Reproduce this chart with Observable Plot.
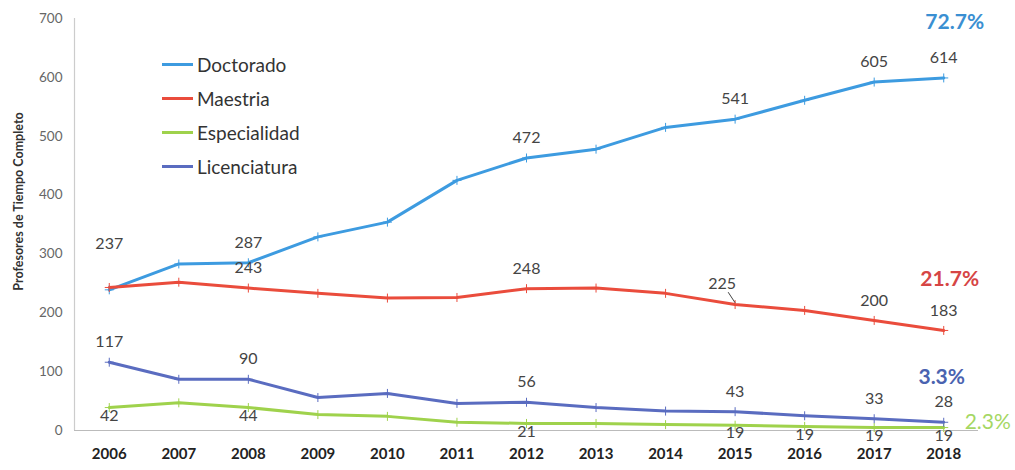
<!DOCTYPE html>
<html>
<head>
<meta charset="utf-8">
<script src="https://cdn.jsdelivr.net/npm/d3@7"></script>
<script src="https://cdn.jsdelivr.net/npm/@observablehq/plot@0.6"></script>
<style>
  body { margin: 0; background: #fff; }
  #wrap { position: relative; width: 1015px; height: 470px; font-family: Lato, "Open Sans", sans-serif; }
  #legend { position: absolute; left: 162px; top: 47px; }
  .row { display: flex; align-items: center; height: 34px; font-size: 19px; color: #333; }
  .sw { width: 31px; height: 3px; margin-right: 4px; }
</style>
</head>
<body>
<div id="wrap"><div id="legend"></div></div>
<script>
const years = [2006, 2007, 2008, 2009, 2010, 2011, 2012, 2013, 2014, 2015, 2016, 2017, 2018];
const seriesNames = ["Doctorado", "Maestria", "Especialidad", "Licenciatura"];
const seriesColors = ["#3d9be0", "#ea4c3c", "#9fd24c", "#5a6cc0"];
const shareColors = ["#3a8fd2", "#d64545", "#a5d763", "#4a63b0"];

const doctorado    = [239, 283, 285, 329, 354, 425, 463, 478, 515, 529, 561, 592, 599];
const maestria     = [243, 252, 242, 233, 225, 226, 241, 242, 233, 214, 204, 187, 170];
const especialidad = [39, 47, 39, 27, 24, 14, 12, 12, 10, 9, 7, 5, 5];
const licenciatura = [116, 87, 87, 56, 63, 46, 48, 39, 33, 32, 25, 20, 14];

const doctoradoLabels    = [237, null, 287, null, null, null, 472, null, null, 541, null, 605, 614];
const maestriaLabels     = [null, null, 243, null, null, null, 248, null, null, 225, null, 200, 183];
const especialidadLabels = [42, null, 44, null, null, null, 21, null, null, 19, 19, 19, 19];
const licenciaturaLabels = [117, null, 90, null, null, null, 56, null, null, 43, null, 33, 28];

const shares = ["72.7%", "21.7%", "2.3%", "3.3%"];

const values = [doctorado, maestria, especialidad, licenciatura];
const labels = [doctoradoLabels, maestriaLabels, especialidadLabels, licenciaturaLabels];

const rows = [];
seriesNames.forEach((s, i) => years.forEach((y, j) => rows.push({series: s, year: y, value: values[i][j], label: labels[i][j]})));
const labelled = rows.filter(d => d.label != null);
const last = seriesNames.map((s, i) => ({series: s, year: years[years.length - 1], value: values[i][years.length - 1], share: shares[i]}));

const isSpecial = d => (d.series === "Doctorado" && d.year === 2006) || (d.series === "Maestria" && d.year === 2015);
const labelFont = {fontSize: 16, fill: "#444", fontFamily: "Lato, sans-serif"};
const shareFont = {fontSize: 21, fontFamily: "Lato, sans-serif"};

const marks = [
  Plot.ruleY([0], {stroke: "#bbb", strokeWidth: 1.2}),
  Plot.ruleX([2005.5], {stroke: "#ccc", strokeWidth: 1.2}),
  Plot.axisX({ticks: years, tickFormat: d => String(d), tickSize: 0, tickPadding: 18, fontSize: 15, fontWeight: "bold", color: "#222", label: null}),
  Plot.axisY({ticks: d3.range(0, 701, 100), tickSize: 0, tickPadding: 12, fontSize: 13.5, color: "#666", label: null}),
  Plot.line(rows, {x: "year", y: "value", z: "series", stroke: "series", strokeWidth: 3}),
  Plot.dot(rows, {x: "year", y: "value", stroke: "series", symbol: "plus", r: 3, strokeWidth: 1}),
  Plot.text(labelled.filter(d => d.series !== "Especialidad" && !isSpecial(d)), {x: "year", y: "value", text: "label", dy: -20, ...labelFont}),
  Plot.text(labelled.filter(d => d.series === "Especialidad"), {x: "year", y: "value", text: "label", dy: 8, ...labelFont}),
  Plot.text(labelled.filter(d => d.series === "Doctorado" && d.year === 2006), {x: "year", y: "value", text: "label", dy: -46, ...labelFont}),
  Plot.text(labelled.filter(d => d.series === "Maestria" && d.year === 2015), {x: "year", y: "value", text: "label", dx: -13, dy: -21, ...labelFont}),
  Plot.link(labelled.filter(d => d.series === "Maestria" && d.year === 2015), {x1: d => d.year - 0.1, y1: d => d.value + 21, x2: d => d.year, y2: d => d.value + 3, stroke: "#444", strokeWidth: 1}),
  Plot.text(last.filter(d => d.series === "Doctorado"), {x: "year", y: "value", text: "share", dx: 11, dy: -56, fontWeight: "bold", fill: shareColors[0], ...shareFont}),
  Plot.text(last.filter(d => d.series === "Maestria"), {x: "year", y: "value", text: "share", dx: 6, dy: -51, fontWeight: "bold", fill: shareColors[1], ...shareFont}),
  Plot.text(last.filter(d => d.series === "Especialidad"), {x: "year", y: "value", text: "share", dx: 44, dy: -5, fill: shareColors[2], ...shareFont}),
  Plot.text(last.filter(d => d.series === "Licenciatura"), {x: "year", y: "value", text: "share", dx: -2, dy: -45, fontWeight: "bold", fill: shareColors[3], ...shareFont}),
  Plot.text(["Profesores de Tiempo Completo"], {frameAnchor: "left", textAnchor: "middle", dx: -56, dy: -23, rotate: -90, fontSize: 12.5, fontWeight: "bold", fill: "#333", fontFamily: "Lato, sans-serif"})
];

const chart = Plot.plot({
  width: 1015,
  height: 470,
  marginLeft: 74,
  marginRight: 37,
  marginTop: 18,
  marginBottom: 40,
  style: {fontFamily: "Lato, sans-serif", background: "#fff", overflow: "visible"},
  x: {type: "linear", domain: [2005.5, 2018.5]},
  y: {domain: [0, 700]},
  color: {domain: seriesNames, range: seriesColors},
  marks
});
const wrap = document.getElementById("wrap");
wrap.insertBefore(chart, wrap.firstChild);

const legend = document.getElementById("legend");
seriesNames.forEach((s, i) => {
  const r = document.createElement("div");
  r.className = "row";
  const sw = document.createElement("span");
  sw.className = "sw";
  sw.style.background = seriesColors[i];
  const t = document.createElement("span");
  t.textContent = s;
  r.appendChild(sw);
  r.appendChild(t);
  legend.appendChild(r);
});
</script>
</body>
</html>
